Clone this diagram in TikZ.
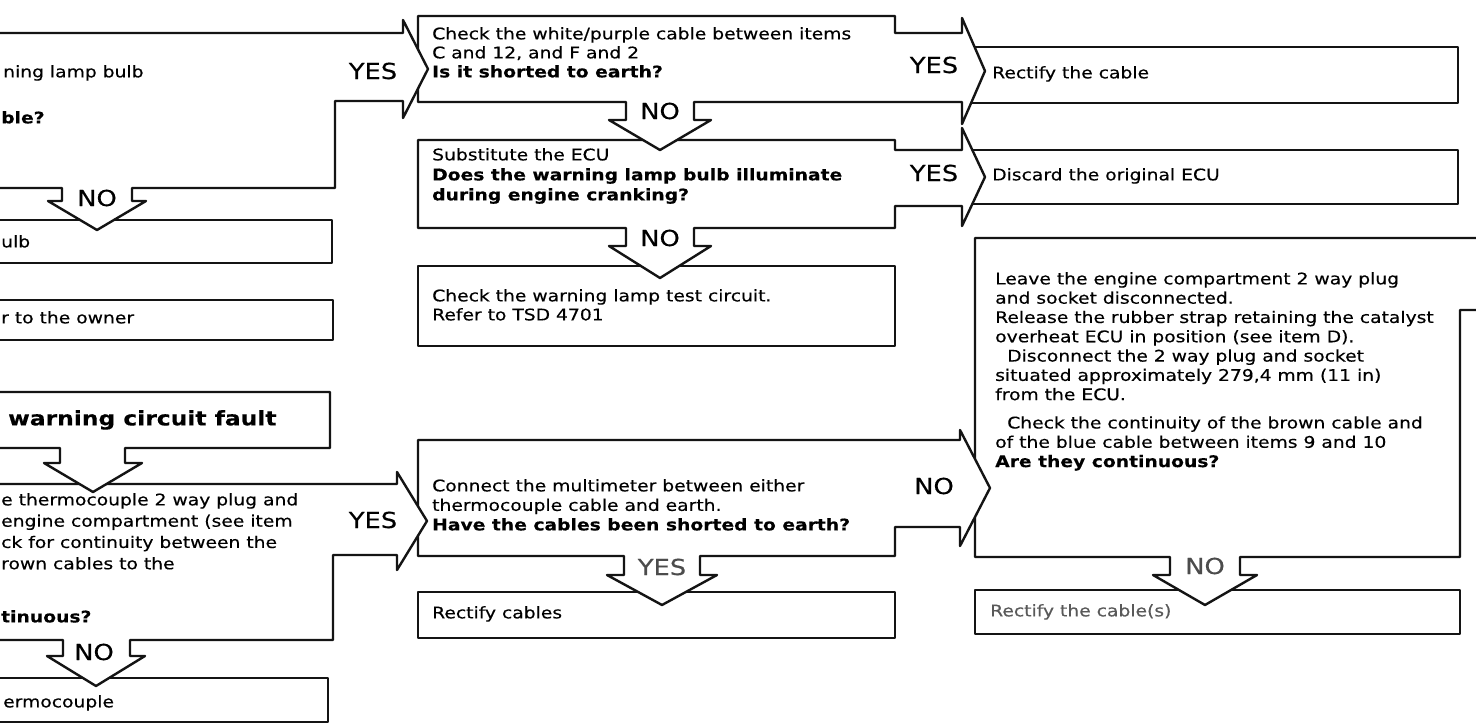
\documentclass[tikz,border=0pt]{standalone}
\usepackage{fontspec}
\setmainfont{DejaVu Sans}[FakeStretch=1.17, UprightFeatures={FakeBold=0.35}, BoldFeatures={FakeBold=0.3}]
\begin{document}
\begin{tikzpicture}[x=1pt,y=-1pt,
  outl/.style={draw=black!92, line width=2.4pt, fill=white, line join=round},
  txt/.style={anchor=north west, inner sep=0pt, align=left, font=\fontsize{16}{19}\selectfont},
  boldtxt/.style={txt, font=\fontsize{16}{19}\selectfont\bfseries},
  yn/.style={inner sep=0pt, font=\fontsize{22}{24}\selectfont},
]
\useasboundingbox (0,0) rectangle (1476,727);
\fill[white] (0,0) rectangle (1476,727);
\clip (0,0) rectangle (1476,727);

% ---------- leaf boxes ----------
\draw[outl] (-20,220) rectangle (332,263);
\draw[outl] (-20,300) rectangle (333,340);
\draw[outl] (-20,678) rectangle (328,722);
\draw[outl] (968,47) rectangle (1458,103);
\draw[outl] (968,150) rectangle (1458,204);
\draw[outl] (418,266) rectangle (895,346);
\draw[outl] (418,592) rectangle (895,638);
\draw[outl] (975,590) rectangle (1460,634);

% ---------- right big question box ----------
\draw[outl] (975,238) -- (1490,238) -- (1490,310) -- (1460,310) -- (1460,557)
  -- (1240,557) -- (1240,575) -- (1257,575) -- (1205,605) -- (1153,575)
  -- (1170,575) -- (1170,557) -- (975,557) -- cycle;

% ---------- substitute ECU box ----------
\draw[outl] (418,140) -- (895,140) -- (895,150) -- (962,150) -- (962,128)
  -- (985,177) -- (962,226) -- (962,206) -- (895,206) -- (895,228)
  -- (694,228) -- (694,246) -- (711,246) -- (660,278) -- (609,246)
  -- (626,246) -- (626,228) -- (418,228) -- cycle;

% ---------- white/purple cable box ----------
\draw[outl] (418,16) -- (895,16) -- (895,33) -- (962,33) -- (962,18)
  -- (985,71) -- (962,124) -- (962,102) -- (694,102) -- (694,120)
  -- (711,120) -- (660,150) -- (609,120) -- (626,120) -- (626,102)
  -- (418,102) -- cycle;

% ---------- multimeter box ----------
\draw[outl] (418,440) -- (960,440) -- (960,430) -- (990,488) -- (960,546)
  -- (960,527) -- (895,527) -- (895,556) -- (700,556) -- (700,575)
  -- (717,575) -- (662,605) -- (607,575) -- (624,575) -- (624,556)
  -- (418,556) -- cycle;

% ---------- thermocouple question box ----------
\draw[outl] (-20,484) -- (397,484) -- (397,472) -- (427,521) -- (397,570)
  -- (397,555) -- (333,555) -- (333,640) -- (130,640) -- (130,656)
  -- (145,656) -- (96,686) -- (47,656) -- (63,656) -- (63,640)
  -- (-20,640) -- cycle;

% ---------- heading box ----------
\draw[outl] (-20,392) -- (330,392) -- (330,448) -- (125,448) -- (125,463)
  -- (142,463) -- (93,492) -- (44,463) -- (60,463) -- (60,448)
  -- (-20,448) -- cycle;

% ---------- lamp bulb question box ----------
\draw[outl] (-20,33) -- (403,33) -- (403,20) -- (428,69) -- (403,118)
  -- (403,101) -- (335,101) -- (335,188) -- (132,188) -- (132,201)
  -- (146,201) -- (97,230) -- (48,201) -- (62,201) -- (62,188)
  -- (-20,188) -- cycle;

% ---------- texts: left column ----------
\node[txt] (q1a) at (3,65) {ning lamp bulb};
\node[boldtxt] (q1b) at (1,111) {ble?};
\node[yn] (y1) at (373,71) {YES};
\node[yn] (n1) at (97,198) {NO};
\node[txt] (l2t) at (1,235) {ulb};
\node[txt] (l3t) at (1,311) {r to the owner};
\node[txt, font=\fontsize{20}{24}\selectfont\bfseries] (ht) at (8,410) {warning circuit fault};
\node[txt, font=\fontsize{16}{21.3}\selectfont] (q2t) at (1,493)
  {e thermocouple 2 way plug and\\engine compartment (see item\\ck for continuity between the\\rown cables to the};
\node[boldtxt] (q2b) at (1,610) {tinuous?};
\node[yn] (y2) at (373,520) {YES};
\node[yn] (n2) at (94,652) {NO};
\node[txt] (l4t) at (3,695) {ermocouple};

% ---------- texts: middle column ----------
\node[txt] (b1t) at (432,27)
  {Check the white/purple cable between items\\C and 12, and F and 2\\\textbf{Is it shorted to earth?}};
\node[yn] (y3) at (934,65) {YES};
\node[txt] (r1t) at (992,66) {Rectify the cable};
\node[yn] (n3) at (660,111) {NO};
\node[txt, font=\fontsize{16}{20}\selectfont] (b2t) at (432,148)
  {Substitute the ECU\\\textbf{Does the warning lamp bulb illuminate}\\\textbf{during engine cranking?}};
\node[yn] (y4) at (934,173) {YES};
\node[txt] (dt) at (992,168) {Discard the original ECU};
\node[yn] (n4) at (660,238) {NO};
\node[txt] (m3t) at (432,289) {Check the warning lamp test circuit.\\Refer to TSD 4701};
\node[txt, font=\fontsize{16}{19.5}\selectfont] (ct) at (432,479)
  {Connect the multimeter between either\\thermocouple cable and earth.\\\textbf{Have the cables been shorted to earth?}};
\node[yn] (n5) at (934,486) {NO};
\node[yn, text=black!70] (y5) at (662,567) {YES};
\node[txt] (rct) at (432,606) {Rectify cables};

% ---------- texts: right column ----------
\node[txt, font=\fontsize{16}{19.3}\selectfont] (rt) at (995,272)
  {Leave the engine compartment 2 way plug\\
   and socket disconnected.\\
   Release the rubber strap retaining the catalyst\\
   overheat ECU in position (see item D).\\
   \hspace*{12pt}Disconnect the 2 way plug and socket\\
   situated approximately 279,4 mm (11 in)\\
   from the ECU.\\[9pt]
   \hspace*{12pt}Check the continuity of the brown cable and\\
   of the blue cable between items 9 and 10\\
   \textbf{Are they continuous?}};
\node[yn, text=black!70] (n6) at (1205,566) {NO};
\node[txt, text=black!65] (rcs) at (990,604) {Rectify the cable(s)};
\end{tikzpicture}
\end{document}
